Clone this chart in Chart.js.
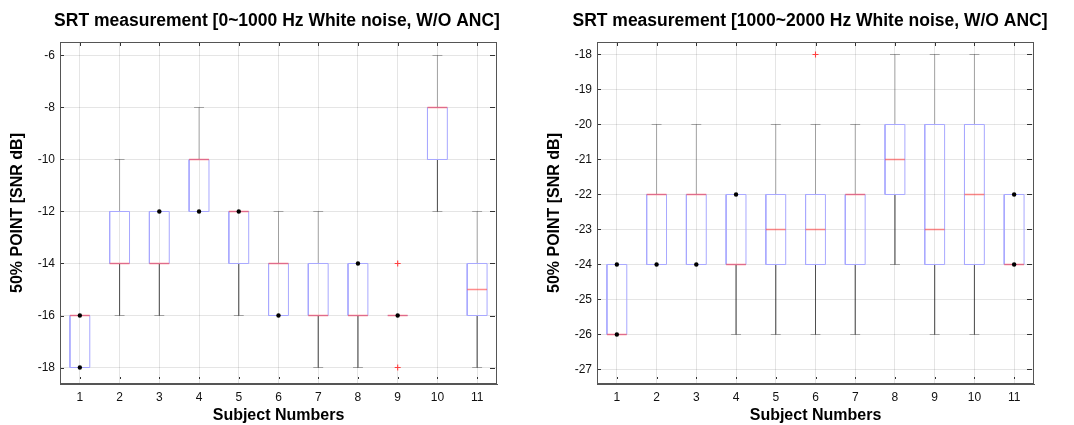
<!DOCTYPE html>
<html lang="en">
<head>
  <meta charset="UTF-8">
  <title>SRT measurement box plots</title>
  <script src="https://cdn.jsdelivr.net/npm/chart.js@4.4.0/dist/chart.umd.min.js"></script>
  <style>
    body { margin: 0; background: #fff; overflow: hidden; width: 1074px; height: 425px; position: relative; }
    .wrap { position: absolute; top: 0; height: 425px; }
  </style>
</head>
<body>
  <div class="wrap" style="left:0;width:554px"><canvas id="leftChart" width="554" height="425"></canvas></div>
  <div class="wrap" style="left:537px;width:546px"><canvas id="rightChart" width="546" height="425"></canvas></div>
  <script>
    const subjects = [1, 2, 3, 4, 5, 6, 7, 8, 9, 10, 11];

    // 0~1000 Hz white noise
    const lowBoxBottom = [-18, -14, -14, -12, -14, -16, -16, -16, -16, -10, -16];
    const lowBoxTop    = [-16, -12, -12, -10, -12, -14, -14, -14, -16, -8, -14];
    const lowMedian    = [-16, -14, -14, -10, -12, -14, -16, -16, -16, -8, -15];
    const lowWhiskLo   = [-18, -16, -16, -12, -16, -16, -18, -18, -16, -12, -18];
    const lowWhiskHi   = [-16, -10, -12, -8, -12, -12, -12, -14, -16, -6, -12];
    const lowDotX = [1, 1, 3, 4, 5, 6, 8, 9];
    const lowDotY = [-16, -18, -12, -12, -12, -16, -14, -16];
    const lowOutX = [9, 9];
    const lowOutY = [-14, -18];

    // 1000~2000 Hz white noise
    const highBoxBottom = [-26, -24, -24, -24, -24, -24, -24, -22, -24, -24, -24];
    const highBoxTop    = [-24, -22, -22, -22, -22, -22, -22, -20, -20, -20, -22];
    const highMedian    = [-26, -22, -22, -24, -23, -23, -22, -21, -23, -22, -24];
    const highWhiskLo   = [-26, -24, -24, -26, -26, -26, -26, -24, -26, -26, -24];
    const highWhiskHi   = [-24, -20, -20, -22, -20, -20, -20, -18, -18, -18, -22];
    const highDotX = [1, 1, 2, 3, 4, 11, 11];
    const highDotY = [-24, -26, -24, -24, -22, -22, -24];
    const highOutX = [6];
    const highOutY = [-18];

    const FONT = "'Liberation Sans', Arial, Helvetica, sans-serif";

    // turn a list of polylines into one dataset with gaps between them
    function polylines(lines) {
      const pts = [];
      lines.forEach(line => {
        line.forEach(p => pts.push({x: p[0], y: p[1]}));
        pts.push({x: line[line.length - 1][0], y: null});
      });
      return pts;
    }

    function lineSet(data, color, order, width) {
      return {data, showLine: true, borderColor: color, borderWidth: width || 1,
              pointRadius: 0, spanGaps: false, order};
    }

    function buildDatasets(bot, top, med, wLo, wHi, dotX, dotY, outX, outY) {
      const hw = 0.25, cw = 0.125;
      const whiskers = [], caps = [], boxes = [], medians = [];
      subjects.forEach((s, i) => {
        if (wHi[i] > top[i]) {
          whiskers.push([[s, top[i]], [s, wHi[i]]]);
          caps.push([[s - cw, wHi[i]], [s + cw, wHi[i]]]);
        }
        if (wLo[i] < bot[i]) {
          whiskers.push([[s, bot[i]], [s, wLo[i]]]);
          caps.push([[s - cw, wLo[i]], [s + cw, wLo[i]]]);
        }
        boxes.push([[s - hw, bot[i]], [s + hw, bot[i]], [s + hw, top[i]], [s - hw, top[i]], [s - hw, bot[i]]]);
        medians.push([[s - hw, med[i]], [s + hw, med[i]]]);
      });
      return [
        {data: outX.map((x, i) => ({x, y: outY[i]})), pointStyle: 'cross', pointRadius: 3,
         borderColor: '#ff4040', borderWidth: 1.1, showLine: false, order: 0},
        {data: dotX.map((x, i) => ({x, y: dotY[i]})), pointStyle: 'circle', pointRadius: 2.2,
         backgroundColor: '#000', borderColor: '#000', borderWidth: 0, showLine: false, order: 1},
        lineSet(polylines(medians), 'rgba(255,70,70,0.62)', 2, 1.7),
        lineSet(polylines(boxes), '#a8a8ff', 3),
        lineSet(polylines(caps), 'rgba(0,0,0,0.3)', 4),
        lineSet(polylines(whiskers), 'rgba(0,0,0,0.3)', 5)
      ];
    }

    // MATLAB-like box frame with small inward tick marks
    const framePlugin = {
      id: 'frame',
      afterDatasetsDraw(chart) {
        const {ctx, chartArea: a, scales: {x, y}} = chart;
        ctx.save();
        ctx.strokeStyle = '#555';
        ctx.lineWidth = 1;
        ctx.strokeRect(Math.round(a.left) + 0.5, Math.round(a.top) + 0.5,
                       Math.round(a.right - a.left) - 1, Math.round(a.bottom - a.top) - 1);
        ctx.strokeStyle = '#333';
        ctx.beginPath();
        x.ticks.forEach(t => {
          const px = Math.round(x.getPixelForValue(t.value)) + 0.5;
          ctx.moveTo(px, a.top + 1); ctx.lineTo(px, a.top + 4);
          ctx.moveTo(px, a.bottom - 5); ctx.lineTo(px, a.bottom - 7);
        });
        y.ticks.forEach(t => {
          const py = Math.round(y.getPixelForValue(t.value)) + 0.5;
          ctx.moveTo(a.left + 1, py); ctx.lineTo(a.left + 4, py);
          ctx.moveTo(a.right - 2, py); ctx.lineTo(a.right - 7, py);
        });
        ctx.stroke();
        ctx.restore();
      }
    };

    function makeChart(id, title, datasets, yMin, yMax, yStep, padRight) {
      const ctx = document.getElementById(id).getContext('2d');
      return new Chart(ctx, {
        type: 'scatter',
        data: {datasets},
        options: {
          responsive: false,
          animation: false,
          layout: {padding: 0},
          plugins: {
            legend: {display: false},
            tooltip: {enabled: false},
            title: {
              display: true, text: title, color: '#000',
              font: {family: FONT, size: 17.5, weight: 'bold'},
              padding: {top: 11, bottom: 10}
            }
          },
          scales: {
            x: {
              type: 'linear', min: 0.5, max: 11.5,
              afterFit: s => { s.height = 41; },
              afterBuildTicks: s => { s.ticks = subjects.map(v => ({value: v})); },
              ticks: {color: '#111', padding: 6, font: {family: FONT, size: 12}},
              grid: {color: 'rgba(0,0,0,0.1)', drawTicks: false},
              border: {color: '#555'},
              title: {display: true, text: 'Subject Numbers', color: '#000', padding: 0,
                      font: {family: FONT, size: 16, weight: 'bold'}}
            },
            y: {
              type: 'linear', min: yMin, max: yMax,
              afterFit: s => { s.width = 60; },
              ticks: {stepSize: yStep, includeBounds: false, color: '#111', padding: 5,
                      font: {family: FONT, size: 12}},
              grid: {color: 'rgba(0,0,0,0.1)', drawTicks: false},
              border: {color: '#555'},
              title: {display: true, text: '50% POINT [SNR dB]', color: '#000', padding: 8,
                      font: {family: FONT, size: 16, weight: 'bold'}}
            },
            spacer: {
              position: 'right', display: true,
              afterFit: s => { s.width = padRight; },
              ticks: {display: false}, grid: {display: false}, border: {display: false}
            }
          }
        },
        plugins: [framePlugin]
      });
    }

    makeChart('leftChart', 'SRT measurement [0~1000 Hz White noise, W/O ANC]',
      buildDatasets(lowBoxBottom, lowBoxTop, lowMedian, lowWhiskLo, lowWhiskHi,
                    lowDotX, lowDotY, lowOutX, lowOutY),
      -18.6346, -5.4808, 2, 57);

    makeChart('rightChart', 'SRT measurement [1000~2000 Hz White noise, W/O ANC]',
      buildDatasets(highBoxBottom, highBoxTop, highMedian, highWhiskLo, highWhiskHi,
                    highDotX, highDotY, highOutX, highOutY),
      -27.4143, -17.6429, 1, 49);
  </script>
</body>
</html>
